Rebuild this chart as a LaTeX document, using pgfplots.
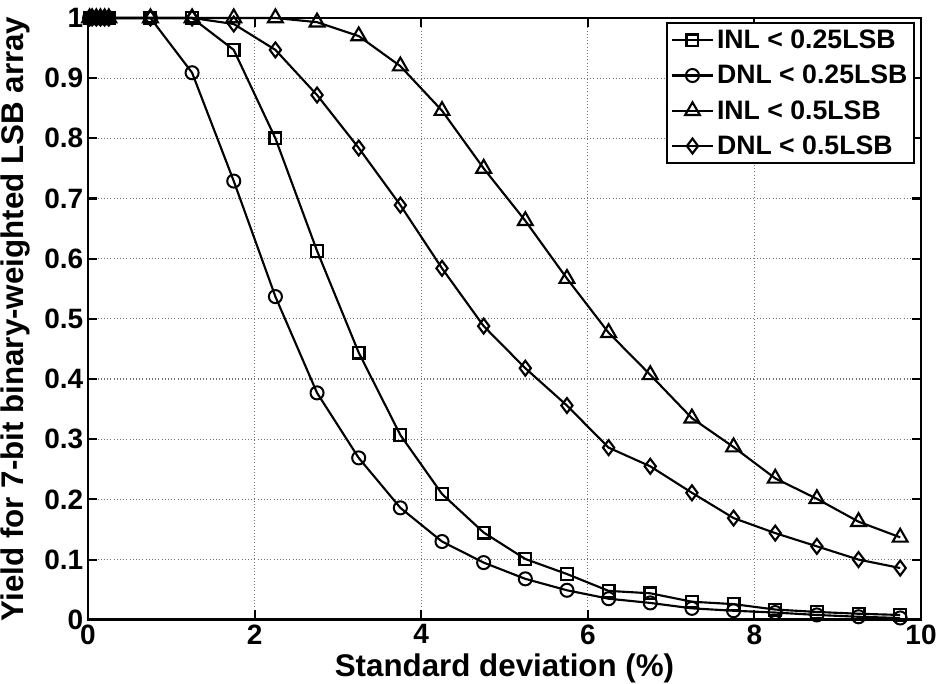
\documentclass[border=0pt]{standalone}
\usepackage{pgfplots}
\pgfplotsset{compat=1.18}
\usepackage{fontspec}
\setmainfont{Liberation Sans}
\begin{document}
\begin{tikzpicture}
\begin{axis}[
  name=ax,
  scale only axis,
  width=625pt, height=451.5pt,
  xmin=0, xmax=10, ymin=0, ymax=1,
  xtick={0,2,4,6,8,10},
  ytick={0,0.1,0.2,0.3,0.4,0.5,0.6,0.7,0.8,0.9,1},
  yticklabels={0,0.1,0.2,0.3,0.4,0.5,0.6,0.7,0.8,0.9,1},
  /pgf/number format/assume math mode=true,
  tick label style={font=\bfseries\fontsize{21}{24}\selectfont},
  label style={font=\bfseries\fontsize{23.5}{27}\selectfont},
  xlabel={Standard deviation (\%)},
  ylabel={Yield for 7-bit binary-weighted LSB array},
  xlabel style={at={(0.5,0)},anchor=north,yshift=-22pt},
  ylabel style={at={(0,0.5)},anchor=south,yshift=40pt},
  tick align=inside,
  major tick length=7pt,
  every tick/.style={black,line width=1.6pt},
  axis line style={line width=2.2pt},
  grid=major,
  major grid style={dotted,black!55,line width=0.9pt},
  clip=false,
  legend style={at={(0.993,0.993)},anchor=north east,draw=black,line width=1.6pt,
    font=\bfseries\fontsize{20}{23}\selectfont,row sep=7pt,inner xsep=3pt,inner ysep=3pt,cells={anchor=west}},
  legend cell align=left,
  legend image code/.code={\draw[mark repeat=2,mark phase=2,#1] plot coordinates {(0cm,0cm) (0.55cm,0cm) (1.1cm,0cm)};},
]
\addplot[black,line width=1.6pt,mark=square, mark size=4.4pt,mark options={solid,line width=1.7pt}] coordinates {
(0.02,1)(0.05,1)(0.1,1)(0.15,1)(0.2,1)(0.25,1)(0.75,1)(1.25,1)(1.75,0.947)(2.25,0.800)(2.75,0.613)(3.25,0.444)(3.75,0.307)(4.25,0.209)(4.75,0.145)(5.25,0.101)(5.75,0.076)(6.25,0.048)(6.75,0.044)(7.25,0.030)(7.75,0.026)(8.25,0.017)(8.75,0.013)(9.25,0.010)(9.75,0.008)};
\addlegendentry{INL < 0.25LSB}
\addplot[black,line width=1.6pt,mark=o, mark size=4.9pt,mark options={solid,line width=1.5pt}] coordinates {
(0.02,1)(0.05,1)(0.1,1)(0.15,1)(0.2,1)(0.25,1)(0.75,1)(1.25,0.909)(1.75,0.729)(2.25,0.537)(2.75,0.377)(3.25,0.269)(3.75,0.186)(4.25,0.130)(4.75,0.095)(5.25,0.068)(5.75,0.049)(6.25,0.035)(6.75,0.028)(7.25,0.019)(7.75,0.015)(8.25,0.012)(8.75,0.008)(9.25,0.005)(9.75,0.003)};
\addlegendentry{DNL < 0.25LSB}
\addplot[black,line width=1.6pt,mark=triangle, mark size=6.4pt,mark options={solid,line width=1.6pt}] coordinates {
(0.02,1)(0.05,1)(0.1,1)(0.15,1)(0.2,1)(0.25,1)(0.75,1)(1.25,1)(1.75,1)(2.25,1)(2.75,0.993)(3.25,0.970)(3.75,0.920)(4.25,0.846)(4.75,0.750)(5.25,0.663)(5.75,0.567)(6.25,0.477)(6.75,0.407)(7.25,0.335)(7.75,0.287)(8.25,0.235)(8.75,0.201)(9.25,0.163)(9.75,0.137)};
\addlegendentry{INL < 0.5LSB}
\addplot[black,line width=1.6pt,mark=diamond, mark size=5.6pt,mark options={solid,line width=1.6pt}] coordinates {
(0.02,1)(0.05,1)(0.1,1)(0.15,1)(0.2,1)(0.25,1)(0.75,1)(1.25,1)(1.75,0.99)(2.25,0.947)(2.75,0.872)(3.25,0.784)(3.75,0.689)(4.25,0.584)(4.75,0.488)(5.25,0.418)(5.75,0.356)(6.25,0.286)(6.75,0.255)(7.25,0.211)(7.75,0.169)(8.25,0.144)(8.75,0.122)(9.25,0.100)(9.75,0.086)};
\addlegendentry{DNL < 0.5LSB}
\end{axis}
\pgfresetboundingbox
\path[use as bounding box] ([xshift=-66pt,yshift=-48pt]ax.south west) rectangle ([xshift=11.25pt,yshift=13.5pt]ax.north east);
\end{tikzpicture}
\end{document}
